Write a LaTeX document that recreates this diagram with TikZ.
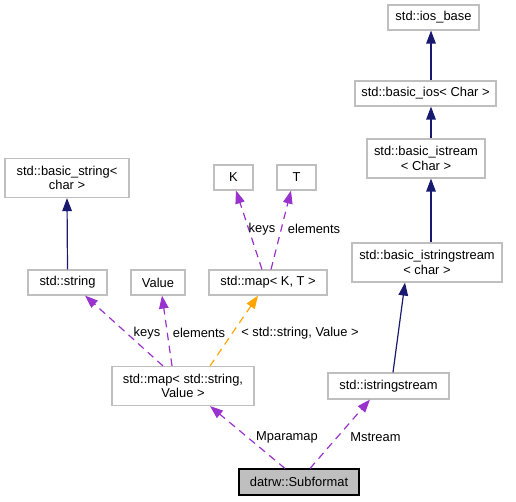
\documentclass[tikz,border=0pt]{standalone}
\usepackage{fontspec}
\setmainfont{Liberation Sans}
\usetikzlibrary{arrows.meta}
\definecolor{navyc}{HTML}{191970}
\definecolor{purpc}{HTML}{9A32CD}
\definecolor{orngc}{HTML}{FFA500}
\definecolor{boxgray}{HTML}{BFBFBF}
\begin{document}
\begin{tikzpicture}[x=1pt,y=-1pt,
  cls/.style={draw=boxgray, line width=1.1pt, fill=white, inner sep=0pt, align=center,
    font=\fontsize{12.9}{14.5}\selectfont, minimum height=25pt},
  cls2/.style={cls, minimum height=39pt},
  focus/.style={cls, draw=black, fill=boxgray, minimum height=26pt},
  tip/.style={-{Triangle[length=13pt,width=9.5pt]}},
  inh/.style={draw=navyc, line width=1.2pt, tip},
  usedash/.style={line width=1.2pt, dash pattern=on 7.5pt off 5.5pt, tip},
  use/.style={usedash, draw=purpc},
  tpl/.style={usedash, draw=orngc},
  lbl/.style={font=\fontsize{12.9}{15}\selectfont, inner sep=0pt, text=black}]
\useasboundingbox (0,0) rectangle (516,501);
% right column
\node[cls, minimum width=91pt] (ios) at (433.5,17.5) {std::ios\_base};
\node[cls, minimum width=141pt] (bios) at (425.5,93.5) {std::basic\_ios< Char >};
\node[cls2, minimum width=118pt] (bis) at (426,158.5) {std::basic\_istream\\< Char >};
\node[cls2, minimum width=150pt] (biss) at (427,262.5) {std::basic\_istringstream\\< char >};
\node[cls, minimum width=121pt, minimum height=26pt] (iss) at (388.5,386) {std::istringstream};
% left part
\node[cls2, minimum width=124pt] (bstr) at (67,178) {std::basic\_string<\\char >};
\node[cls, minimum width=79pt] (str) at (67.5,282.5) {std::string};
\node[cls, minimum width=54pt] (val) at (158,282.5) {Value};
\node[cls, minimum width=118pt] (mkt) at (268,282.5) {std::map< K, T >};
\node[cls, minimum width=39pt] (K) at (233.5,177.5) {K};
\node[cls, minimum width=39pt] (T) at (296.5,177.5) {T};
\node[cls2, minimum width=142pt] (map) at (183,386) {std::map< std::string,\\Value >};
\node[focus, minimum width=120pt] (sub) at (299,482) {datrw::Subformat};
% vertical axis of the right column
\coordinate (ax) at (431,0);
% inheritance
\draw[inh] (str.north) -- (bstr.south);
\draw[inh] (bios.north -| ax) -- (ios.south -| ax);
\draw[inh] (bis.north -| ax) -- (bios.south -| ax);
\draw[inh] (biss.north -| ax) -- (bis.south -| ax);
\draw[inh] ([xshift=4.5pt]iss.north) -- ([xshift=-22pt]biss.south);
% usage
\draw[use] ([xshift=-20pt]map.north) -- ([xshift=17.5pt]str.south);
\draw[use] ([xshift=-11pt]map.north) -- ([xshift=4pt]val.south);
\draw[tpl] ([xshift=27pt]map.north) -- ([xshift=-10pt]mkt.south);
\draw[use] ([xshift=-6pt]mkt.north) -- ([xshift=2.5pt]K.south);
\draw[use] ([xshift=3pt]mkt.north) -- ([xshift=-5.5pt]T.south);
\draw[use] ([xshift=-14pt]sub.north) -- ([xshift=27pt]map.south);
\draw[use] ([xshift=11pt]sub.north) -- ([xshift=-18.5pt]iss.south);
% labels
\node[lbl] (l1) at (147,333) {keys};
\node[lbl] (l2) at (199,333) {elements};
\node[lbl] (l3) at (300,333) {< std::string, Value >};
\node[lbl] (l4) at (262,229) {keys};
\node[lbl] (l5) at (314,229) {elements};
\node[lbl] (l6) at (287,437) {Mparamap};
\node[lbl] (l7) at (375.5,437) {Mstream};
\end{tikzpicture}
\end{document}
